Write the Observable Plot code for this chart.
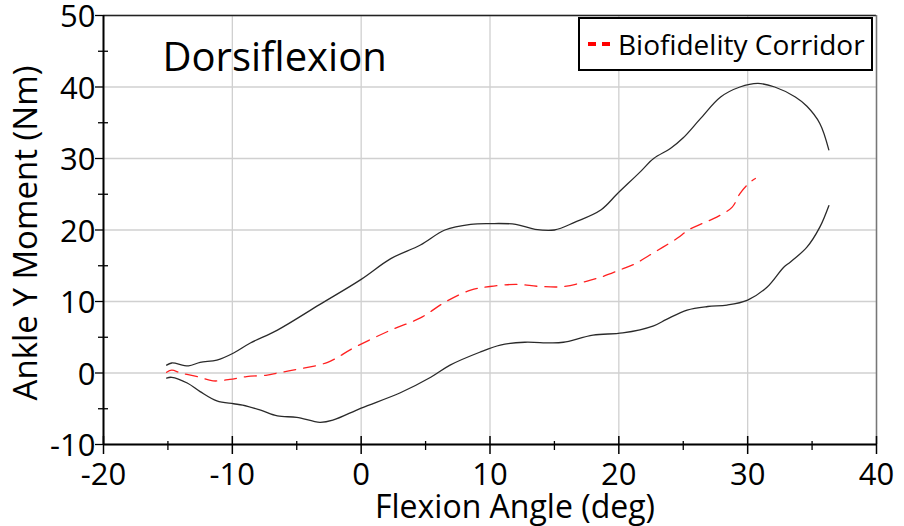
<!DOCTYPE html>
<html><head><meta charset="utf-8">
<script src="https://cdn.jsdelivr.net/npm/d3@7"></script>
<script src="https://cdn.jsdelivr.net/npm/@observablehq/plot@0.6"></script>
<style>
body{margin:0;background:#fff;}
#wrap{position:relative;width:904px;height:526px;font-family:"Open Sans",sans-serif;}
#legend{position:absolute;left:578px;top:17px;width:291px;height:50px;border:2px solid #000;background:#fff;display:flex;align-items:center;box-sizing:content-box;}
#legend span{font-size:28px;color:#000;margin-left:6px;line-height:1;}
#legend svg{margin-left:8px;}
</style></head>
<body>
<div id="wrap"></div>
<script>
const title = "Dorsiflexion";
const xLabel = "Flexion Angle (deg)";
const yLabel = "Ankle Y Moment (Nm)";
const legendLabel = "Biofidelity Corridor";
const xTicks = [-20, -10, 0, 10, 20, 30, 40];
const xMinor = [-15, -5, 5, 15, 25, 35];
const yTicks = [-10, 0, 10, 20, 30, 40, 50];
const yMinor = [-5, 5, 15, 25, 35, 45];

const upperX = [-15.1, -14.7, -13.4, -12.5, -11.2, -9.9, -8.6, -6.5, -3.2, 0, 2.3, 4.6, 6.5, 8.5, 10, 12, 13.5, 15, 16.6, 18.6, 19.9, 21.7, 22.7, 24, 25, 26.3, 27.9, 29.4, 30.8, 32.1, 33.7, 34.6, 35.6, 36.3];
const upperY = [1.1, 1.4, 1.0, 1.5, 1.8, 2.8, 4.2, 6.0, 9.6, 13.1, 16.0, 17.9, 20.0, 20.8, 20.9, 20.8, 20.1, 20.0, 21.1, 22.8, 25.1, 28.2, 30.0, 31.4, 32.9, 35.5, 38.6, 40.0, 40.5, 40.0, 38.6, 37.3, 34.9, 31.2];

const lowerX = [-15.1, -14.7, -13.5, -12.5, -11.2, -9.9, -9.2, -7.8, -6.5, -5, -3.2, -2.2, 0, 3.0, 5.4, 6.9, 9.2, 10.8, 12.7, 14.7, 15.7, 18, 20.3, 22.7, 23.7, 25.3, 26.9, 28.4, 30, 31.5, 32.8, 33.3, 34.6, 35.6, 36.3];
const lowerY = [-0.7, -0.6, -1.4, -2.6, -3.9, -4.3, -4.5, -5.2, -6.0, -6.2, -6.9, -6.6, -4.9, -2.8, -0.6, 1.1, 2.9, 3.9, 4.3, 4.2, 4.3, 5.3, 5.6, 6.6, 7.5, 8.8, 9.3, 9.5, 10.2, 12.0, 14.8, 15.5, 17.6, 20.4, 23.4];

const meanX = [-15.1, -14.7, -14.0, -12.7, -11.5, -10.2, -8.9, -7.3, -6.5, -5.3, -2.6, -0.6, 2.3, 4.6, 6.5, 8.5, 10, 12, 13.9, 15.8, 17.8, 18.6, 20.2, 21.3, 22.4, 24.5, 25.4, 26.6, 27.6, 28.8, 29.4, 30.2, 30.6];
const meanY = [0.1, 0.4, 0.0, -0.5, -1.1, -0.9, -0.5, -0.3, 0.0, 0.4, 1.5, 3.5, 6.0, 7.7, 9.9, 11.6, 12.1, 12.4, 12.1, 12.1, 13.0, 13.4, 14.5, 15.3, 16.5, 18.8, 20.0, 21.0, 21.8, 23.2, 25.1, 26.7, 27.2];

const upper = upperX.map((x, i) => ({x, y: upperY[i]}));
const lower = lowerX.map((x, i) => ({x, y: lowerY[i]}));
const mean = meanX.map((x, i) => ({x, y: meanY[i]}));

const W = 904, H = 526;
const mL = 103, mR = 28, mT = 15, mB = 82;
const fw = W - mL - mR, fh = H - mT - mB;

const chart = Plot.plot({
  width: W, height: H,
  marginLeft: mL, marginRight: mR, marginTop: mT, marginBottom: mB,
  style: {fontFamily: "'Open Sans', sans-serif", background: "#fff", color: "#000"},
  x: {domain: [-20, 40]},
  y: {domain: [-10, 50]},
  marks: [
    Plot.gridX(xTicks, {stroke: "#d0d0d0", strokeOpacity: 1, strokeWidth: 1.3}),
    Plot.gridY(yTicks, {stroke: "#d0d0d0", strokeOpacity: 1, strokeWidth: 1.3}),
    Plot.ruleY([50], {stroke: "#222", strokeWidth: 1.5}),
    Plot.ruleX([40], {stroke: "#777", strokeWidth: 1.5}),
    Plot.line(upper, {x: "x", y: "y", stroke: "#2a2a2a", strokeWidth: 1.3, curve: "catmull-rom"}),
    Plot.line(lower, {x: "x", y: "y", stroke: "#2a2a2a", strokeWidth: 1.3, curve: "catmull-rom"}),
    Plot.line(mean, {x: "x", y: "y", stroke: "#ff2020", strokeWidth: 1.3, strokeDasharray: "12,8", curve: "catmull-rom"}),
    Plot.ruleY([-10], {stroke: "#000", strokeWidth: 2}),
    Plot.ruleX([-20], {stroke: "#000", strokeWidth: 2}),
    Plot.tickX(xTicks, {x: d => d, stroke: "#000", strokeWidth: 1.5, insetTop: fh - 8, insetBottom: -10}),
    Plot.tickX(xMinor, {x: d => d, stroke: "#000", strokeWidth: 1.3, insetTop: fh - 3, insetBottom: -6}),
    Plot.tickY(yTicks, {y: d => d, stroke: "#000", strokeWidth: 1.3, insetLeft: -8, insetRight: fw}),
    Plot.tickY(yMinor, {y: d => d, stroke: "#000", strokeWidth: 1.3, insetLeft: -5, insetRight: fw - 5}),
    Plot.axisX(xTicks, {tickSize: 0, tickPadding: 18, fontSize: 31, tickFormat: d => String(d).replace("−", "-"), label: null}),
    Plot.axisY(yTicks, {tickSize: 0, tickPadding: 8, fontSize: 31, dy: 2, tickFormat: d => String(d), label: null}),
    Plot.text([title], {frameAnchor: "top-left", dx: 59, dy: 43, textAnchor: "start", lineAnchor: "middle", fontSize: 40, fill: "#000"}),
    Plot.text([xLabel], {frameAnchor: "bottom", dx: 25, dy: 63, textAnchor: "middle", lineAnchor: "middle", fontSize: 32, fill: "#000"}),
    Plot.text([yLabel], {frameAnchor: "left", dx: -77, dy: 3, rotate: -90, textAnchor: "middle", lineAnchor: "middle", fontSize: 33, fill: "#000"})
  ]
});

const wrap = document.getElementById("wrap");
wrap.appendChild(chart);
const leg = document.createElement("div");
leg.id = "legend";
leg.innerHTML = `<svg width="24" height="10"><line x1="0" y1="5" x2="24" y2="5" stroke="#ff0000" stroke-width="4" stroke-dasharray="8,6"/></svg><span>${legendLabel}</span>`;
wrap.appendChild(leg);
</script>
</body></html>
